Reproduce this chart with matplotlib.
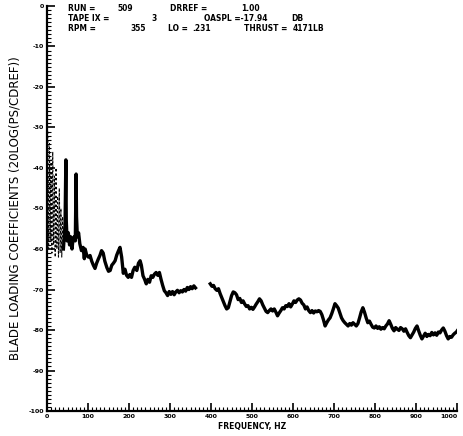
import matplotlib.pyplot as plt
from matplotlib.ticker import MultipleLocator

# low-frequency end, drawn as a broken trace on the plotter
low_freq = [2, 4, 6, 8, 10, 12, 14, 16, 18, 20, 22, 24, 26, 28, 30, 32, 34, 36, 38, 40]
low_db = [-31, -60, -34, -58, -38, -61, -36, -59, -42, -62, -40, -60, -47, -62, -45, -61,
          -50, -62, -52, -60]

# first part of the spectrum (up to the gap)
freq_a = [40, 42, 44, 46, 47, 49, 52, 55, 58, 61, 63, 66, 69, 71, 72, 74, 77, 80, 84, 88,
          91, 93, 97, 101, 105, 109, 113, 117, 121, 125, 129, 133, 137, 141, 146, 150, 154,
          158, 162, 166, 170, 174, 178, 182, 186, 190, 194, 198, 202, 206, 210, 214, 219,
          223, 227, 230, 234, 238, 242, 246, 250, 254, 258, 262, 266, 270, 274, 278, 282,
          286, 290, 294, 298, 302, 306, 310, 314, 318, 322, 326, 330, 334, 338, 342, 346,
          350, 354, 358, 362]
db_a = [-60, -57, -54, -38, -53, -58, -56, -59, -57, -60, -58, -57, -58, -41.5, -52, -57,
        -56, -58.7, -60.4, -59.6, -62.4, -60, -61.6, -62, -61.6, -63, -64, -64.8, -63.5,
        -62.5, -61.6, -60.4, -61, -63, -64.6, -65.5, -65.3, -64, -63.5, -62.9, -61.5, -60.5,
        -59.6, -62, -66, -65, -66.5, -67, -66.3, -67, -65.3, -64.5, -65.3, -63.5, -62.9,
        -64, -66.6, -67.5, -68.6, -67.5, -68.2, -66.6, -67, -66.2, -65.8, -66.5, -65.8,
        -67.5, -69, -70.3, -70.8, -71.5, -70.5, -71.2, -70.5, -71.3, -70.6, -70.2, -70.8,
        -70.3, -70.6, -70, -70.4, -69.5, -70, -69.3, -69.8, -69.1, -69.6]

# second part of the spectrum (after the gap)
freq_b = [398, 402, 406, 410, 414, 418, 422, 426, 430, 434, 438, 442, 446, 450, 454, 458,
          462, 466, 470, 474, 478, 482, 486, 490, 494, 498, 502, 506, 510, 514, 518, 522,
          526, 530, 534, 538, 542, 546, 550, 554, 558, 562, 566, 570, 574, 578, 582, 586,
          590, 594, 598, 602, 606, 610, 614, 618, 622, 626, 630, 634, 638, 642, 646, 650,
          654, 658, 662, 666, 670, 674, 678, 682, 686, 690, 694, 698, 702, 706, 710, 714,
          718, 722, 726, 730, 734, 738, 742, 746, 750, 754, 758, 762, 766, 770, 774, 778,
          782, 786, 790, 794, 798, 802, 806, 810, 814, 818, 822, 826, 830, 834, 838, 842,
          846, 850, 854, 858, 862, 866, 870, 874, 878, 882, 886, 890, 894, 898, 902, 906,
          910, 914, 918, 922, 926, 930, 934, 938, 942, 946, 950, 954, 958, 962, 966, 970,
          974, 978, 982, 986, 990, 994, 998, 1000]
db_b = [-68.6, -69.2, -69, -69.8, -70.2, -69.8, -71, -72, -73, -74, -74.8, -74.5, -73,
        -71.5, -70.6, -70.8, -71.3, -72.5, -72.2, -73.2, -72.8, -73.6, -74.2, -74, -74.8,
        -74.4, -74.9, -74.3, -73.6, -73, -72.3, -72.8, -73.8, -74.6, -75.4, -75.7, -75.2,
        -74.8, -75.3, -74.8, -75.6, -76.5, -75.8, -75.2, -74.5, -74.8, -74, -74.2, -73.5,
        -74.3, -73.6, -72.8, -73.2, -72.6, -72.3, -72.6, -73.4, -73.8, -74.8, -74.3, -75.2,
        -75.7, -75.2, -75.8, -75.3, -75.5, -75.2, -75.4, -76.2, -77.5, -79, -78.2, -77.5,
        -77, -76, -74.8, -73.5, -74, -74.6, -75.8, -77, -77.7, -78.2, -78.6, -79, -78.4,
        -78.8, -78.2, -78.6, -79, -78.4, -77, -75.5, -74.5, -75.6, -77, -78.2, -77.8, -78.6,
        -79.3, -79.5, -79, -79.6, -79.2, -79.8, -79.4, -79.7, -79, -78.5, -77.7, -78.6,
        -79.6, -80.2, -79.4, -79.8, -80.1, -79.4, -79.7, -80.3, -79.7, -80.6, -81.4, -81.9,
        -81.2, -80.5, -79.6, -79, -80.2, -81.3, -82.2, -81.5, -80.8, -81.6, -81.1, -81.4,
        -80.6, -81.2, -80.7, -81.3, -80.5, -80.7, -80, -79.5, -80.3, -81.4, -82.2, -81.6,
        -81.8, -81.2, -80.8, -80.5, -80.2]

x_ticks = [0, 100, 200, 300, 400, 500, 600, 700, 800, 900, 1000]
y_ticks = [0, -10, -20, -30, -40, -50, -60, -70, -80, -90, -100]

header = [
    ("RUN =", 0.147, 0.981), ("509", 0.253, 0.981), ("DRREF =", 0.367, 0.981),
    ("1.00", 0.52, 0.981),
    ("TAPE IX =", 0.147, 0.957), ("3", 0.326, 0.957), ("OASPL =-17.94", 0.44, 0.957),
    ("DB", 0.628, 0.957),
    ("RPM =", 0.147, 0.934), ("355", 0.281, 0.934), ("LO =", 0.363, 0.934),
    (".231", 0.415, 0.934), ("THRUST =", 0.528, 0.934), ("4171LB", 0.632, 0.934),
]

fig = plt.figure(figsize=(4.63, 4.36), dpi=100)
ax = fig.add_axes([0.1015, 0.0573, 0.886, 0.929])

ax.plot(low_freq, low_db, color="black", lw=0.8, ls=(0, (2, 2)))
ax.plot(freq_a, db_a, color="black", lw=2.4, solid_joinstyle="round")
ax.plot(freq_b, db_b, color="black", lw=2.4, solid_joinstyle="round")

ax.set_xlim(0, 1000)
ax.set_ylim(-100, 0)
ax.spines["top"].set_visible(False)
ax.spines["right"].set_visible(False)
ax.spines["left"].set_linewidth(1.6)
ax.spines["bottom"].set_linewidth(1.6)

ax.set_xticks(x_ticks)
ax.set_yticks(y_ticks)
ax.xaxis.set_minor_locator(MultipleLocator(10))
ax.yaxis.set_minor_locator(MultipleLocator(1))
ax.tick_params(which="major", direction="in", length=6, width=1.2, labelsize=4.5, pad=2)
ax.tick_params(which="minor", direction="in", length=3, width=0.8)
ax.set_xticklabels([str(t) for t in x_ticks], fontweight="bold")
ax.set_yticklabels([str(t) for t in y_ticks], fontweight="bold")
ax.get_xticklabels()[-1].set_horizontalalignment("right")

ax.set_xlabel("FREQUENCY, HZ", fontsize=5.5, fontweight="bold", labelpad=2)
ax.set_ylabel("BLADE LOADING COEFFICIENTS (20LOG(PS/CDREF))", fontsize=8.5,
              labelpad=5)

for txt, x, y in header:
    fig.text(x, y, txt, fontsize=6, fontweight="bold", fontstretch="condensed",
             va="center", ha="left")

fig.savefig("out.png", dpi=100)
